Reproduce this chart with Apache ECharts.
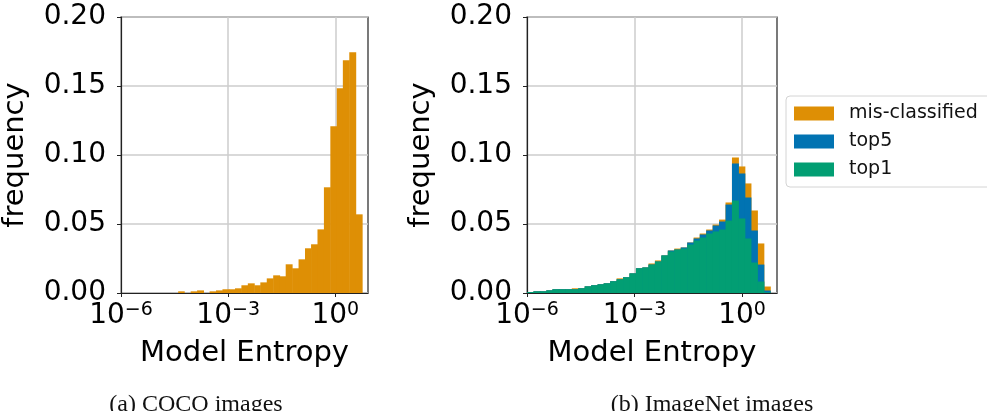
<!DOCTYPE html>
<html>
<head>
<meta charset="utf-8">
<script src="https://cdn.jsdelivr.net/npm/echarts@6/dist/echarts.min.js"></script>
<style>
  html, body { margin: 0; padding: 0; background: #fff; }
  #chart { width: 987px; height: 411px; }
</style>
</head>
<body>
<div id="chart"></div>
<script>
// bin edges are log10(entropy)
const cocoEdges = [-6.00, -5.82, -5.65, -5.47, -5.29, -5.11, -4.94, -4.76, -4.58, -4.40, -4.23, -4.05, -3.87, -3.69, -3.52, -3.34, -3.16, -2.98, -2.81, -2.63,
  -2.45, -2.27, -2.10, -1.92, -1.74, -1.56, -1.39, -1.21, -1.03, -0.85, -0.68, -0.50, -0.32, -0.14, 0.04, 0.21, 0.39, 0.57, 0.75]
const cocoFreq = [0, 0, 0, 0, 0, 0, 0, 0, 0, 0.0012, 0, 0.0012, 0.0019, 0, 0.0012, 0.0019, 0.0027, 0.0027, 0.0034,
  0.0056, 0.0070, 0.0056, 0.0077, 0.0106, 0.0128, 0.0121, 0.0208, 0.0179, 0.0244, 0.0324, 0.0353, 0.0461, 0.0766,
  0.1208, 0.1483, 0.1686, 0.1744, 0.0570]

const inetEdges = [-6.00, -5.82, -5.64, -5.46, -5.29, -5.11, -4.93, -4.75, -4.57, -4.39, -4.21, -4.03, -3.86, -3.68, -3.50, -3.32, -3.14, -2.96, -2.78, -2.61,
  -2.43, -2.25, -2.07, -1.89, -1.71, -1.53, -1.35, -1.18, -1.00, -0.82, -0.64, -0.46, -0.28, -0.10, 0.08, 0.25, 0.43, 0.61, 0.79]
const inetMis = [0.0007, 0.0012, 0.0012, 0.0019, 0.0027, 0.0027, 0.0027, 0.0034, 0.0034, 0.0048, 0.0056, 0.0063, 0.0070, 0.0085,
  0.0106, 0.0114, 0.0142, 0.0179, 0.0185, 0.0214, 0.0236, 0.0272, 0.0308, 0.0322, 0.0330, 0.0366, 0.0402, 0.0431, 0.0460,
  0.0496, 0.0532, 0.0656, 0.0982, 0.0917, 0.0794, 0.0598, 0.0359, 0.0047]
const inetTop5 = [0.0007, 0.0012, 0.0012, 0.0019, 0.0027, 0.0027, 0.0027, 0.0027, 0.0034, 0.0048, 0.0056, 0.0063, 0.0070, 0.0085,
  0.0099, 0.0114, 0.0142, 0.0179, 0.0185, 0.0206, 0.0228, 0.0272, 0.0308, 0.0315, 0.0330, 0.0366, 0.0395, 0.0424, 0.0453,
  0.0489, 0.0518, 0.0641, 0.0938, 0.0866, 0.0692, 0.0453, 0.0206, 0.0018]
const inetTop1 = [0.0007, 0.0012, 0.0012, 0.0019, 0.0027, 0.0027, 0.0027, 0.0027, 0.0034, 0.0048, 0.0056, 0.0063, 0.0070, 0.0085,
  0.0099, 0.0114, 0.0142, 0.0179, 0.0185, 0.0206, 0.0228, 0.0272, 0.0301, 0.0315, 0.0322, 0.0351, 0.0380, 0.0402, 0.0431,
  0.0446, 0.0460, 0.0525, 0.0670, 0.0540, 0.0395, 0.0221, 0.0083, 0.0005]

const xTicks = [-6, -3, 0]
const seriesNames = ['mis-classified', 'top5', 'top1']
const COLORS = { 'mis-classified': '#DE8F05', top5: '#0173B2', top1: '#029E73' }

const FONT = 'DejaVu Sans'

const toBins = (edges, freq) => freq.map((v, i) => [edges[i], edges[i + 1], v])

const renderBin = (params, api) => {
  const p0 = api.coord([api.value(0), api.value(2)])
  const p1 = api.coord([api.value(1), 0])
  const cs = params.coordSys
  const rect = echarts.graphic.clipRectByRect(
    { x: p0[0], y: p0[1], width: p1[0] - p0[0] + 0.5, height: p1[1] - p0[1] },
    { x: cs.x, y: cs.y, width: cs.width, height: cs.height }
  )
  return rect && { type: 'rect', shape: rect, style: { fill: api.visual('color') } }
}

const histSeries = (name, color, data, gridIdx) => ({
  name: name,
  type: 'custom',
  xAxisIndex: gridIdx * 2,
  yAxisIndex: gridIdx,
  renderItem: renderBin,
  encode: { x: [0, 1], y: 2 },
  itemStyle: { color: color },
  data: data,
  silent: true
})

const xAxes = (gridIdx, max) => ([
  {
    type: 'value',
    gridIndex: gridIdx,
    min: -6,
    max: max,
    interval: 3,
    name: 'Model Entropy',
    nameLocation: 'middle',
    nameGap: 46,
    nameTextStyle: { fontFamily: FONT, fontSize: 29, color: '#000' },
    axisLine: { show: false },
    axisTick: { show: true, length: 4, customValues: xTicks, lineStyle: { color: '#222' } },
    splitLine: { show: true, lineStyle: { color: '#cccccc', width: 1.5 } },
    axisLabel: {
      customValues: xTicks,
      margin: 8,
      color: '#000',
      fontFamily: FONT,
      formatter: v => '{b|10}{s|' + (v === 0 ? '0' : '\u2212' + Math.abs(v)) + '}',
      rich: {
        b: { fontFamily: FONT, fontSize: 28, color: '#000', lineHeight: 30 },
        s: { fontFamily: FONT, fontSize: 19, color: '#000', verticalAlign: 'top', lineHeight: 19 }
      }
    }
  },
  {
    // spine drawn above the bars
    type: 'value',
    gridIndex: gridIdx,
    position: 'bottom',
    min: -6,
    max: max,
    z: 10,
    axisLine: { show: true, onZero: false, lineStyle: { color: '#222', width: 1.2 } },
    axisTick: { show: false },
    axisLabel: { show: false },
    splitLine: { show: false }
  }
])

const yAxis = (gridIdx) => ({
  type: 'value',
  gridIndex: gridIdx,
  min: 0,
  max: 0.2,
  interval: 0.05,
  name: 'frequency',
  nameLocation: 'middle',
  nameGap: 91,
  nameTextStyle: { fontFamily: FONT, fontSize: 29, color: '#000' },
  axisLine: { show: true, onZero: false, lineStyle: { color: '#222', width: 1.2 } },
  axisTick: { show: true, length: 4, lineStyle: { color: '#222' } },
  splitLine: { show: true, lineStyle: { color: '#cccccc', width: 1.5 } },
  axisLabel: {
    margin: 15,
    color: '#000',
    fontFamily: FONT,
    fontSize: 28,
    formatter: v => v.toFixed(2)
  }
})

const chart = echarts.init(document.getElementById('chart'), null, { renderer: 'canvas' })

chart.setOption({
  animation: false,
  backgroundColor: '#fff',
  title: [
    {
      text: '(a) COCO images',
      left: 191,
      top: 388,
      textAlign: 'center',
      textStyle: { fontFamily: 'Liberation Serif', fontSize: 24, fontWeight: 'normal', color: '#111' }
    },
    {
      text: '(b) ImageNet images',
      left: 707,
      top: 388,
      textAlign: 'center',
      textStyle: { fontFamily: 'Liberation Serif', fontSize: 24, fontWeight: 'normal', color: '#111' }
    }
  ],
  legend: {
    data: seriesNames,
    orient: 'vertical',
    left: 786,
    top: 96,
    icon: 'rect',
    itemWidth: 40,
    itemHeight: 14,
    itemGap: 9,
    padding: [8, 40, 8, 8],
    borderColor: '#d4d4d4',
    borderWidth: 1,
    borderRadius: 4,
    backgroundColor: '#fff',
    textStyle: { fontFamily: FONT, fontSize: 19, color: '#111', padding: [0, 0, 0, 10] }
  },
  grid: [
    { left: 119, top: 17, width: 249, height: 276, show: true, borderColor: '#222', borderWidth: 1.2 },
    { left: 527, top: 17, width: 250, height: 276, show: true, borderColor: '#222', borderWidth: 1.2 }
  ],
  xAxis: [...xAxes(0, 0.914), ...xAxes(1, 0.977)],
  yAxis: [yAxis(0), yAxis(1)],
  series: [
    histSeries('COCO', COLORS['mis-classified'], toBins(cocoEdges, cocoFreq), 0),
    histSeries('mis-classified', COLORS['mis-classified'], toBins(inetEdges, inetMis), 1),
    histSeries('top5', COLORS.top5, toBins(inetEdges, inetTop5), 1),
    histSeries('top1', COLORS.top1, toBins(inetEdges, inetTop1), 1)
  ]
})
</script>
</body>
</html>
